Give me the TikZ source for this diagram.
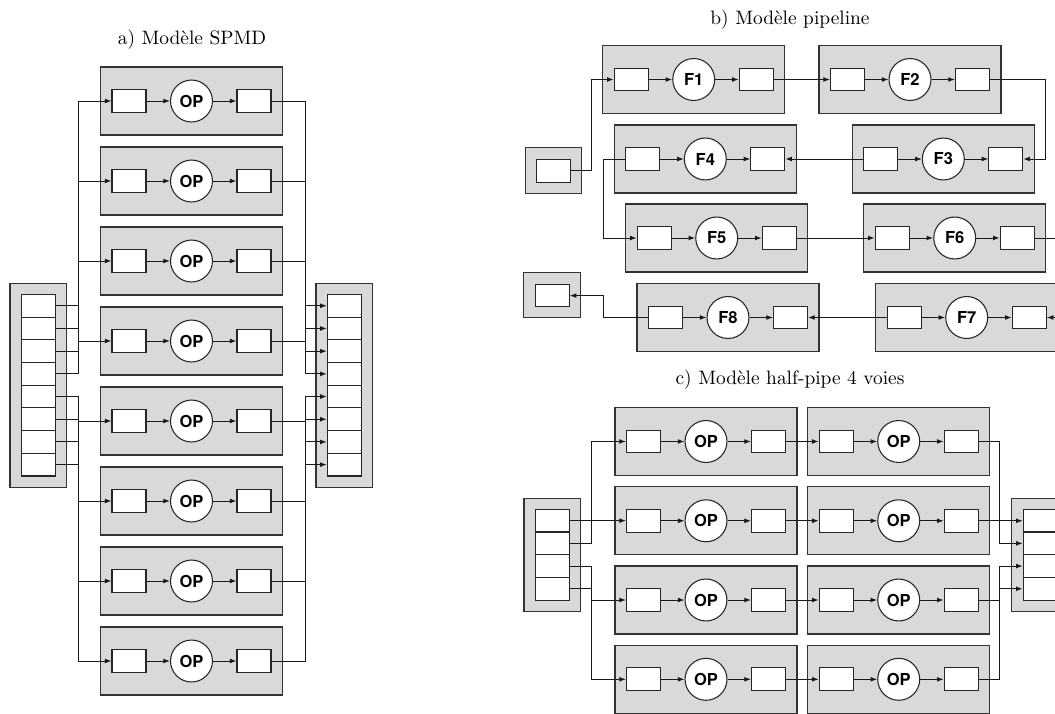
\documentclass[tikz,border=0pt]{standalone}
\usepackage{fontspec}
\newfontfamily\opfont{TeX Gyre Heros}
\usetikzlibrary{arrows.meta,calc}
\tikzset{
  frame/.style={draw=black!80, fill=gray!30, line width=0.6pt, rectangle, inner sep=0pt},
  cellbox/.style={rectangle, draw=black!85, fill=white, line width=0.55pt,
    minimum width=17.5pt, minimum height=11.7pt, inner sep=0pt},
  opnode/.style={circle, draw=black!85, fill=white, line width=0.55pt,
    minimum size=21.6pt, inner sep=0pt, font=\opfont\bfseries\fontsize{8.5}{10}\selectfont},
  wire/.style={line width=0.5pt, black!90},
  arr/.style={wire, -{Latex[length=3.4pt,width=2.5pt]}},
  title/.style={font=\fontsize{10}{12}\selectfont, inner sep=0pt},
}
% stage: name, cx, cy, label
\newcommand\stagebox[4]{%
  \node[frame, minimum width=93.7pt, minimum height=35pt] (#1) at (#2,#3) {};
  \node[cellbox] (#1-in) at ($(#1.center)+(-62.5,0)$) {};
  \node[opnode] (#1-op) at (#1.center) {#4};
  \node[cellbox] (#1-out) at ($(#1.center)+(62.5,0)$) {};
  \draw[arr] (#1-in.east) -- (#1-op.west);
  \draw[arr] (#1-op.east) -- (#1-out.west);
}
% cell stack: name, cx, cy, n
\newcommand\cellstack[4]{%
  \node[frame, minimum width=29.2pt, minimum height={(#4*22.7+22.4)*0.515pt}] (#1) at (#2,#3) {};
  \foreach \k in {1,...,#4} {
    \node[cellbox] (#1-\k) at (#2, {#3+(\k-(#4+1)/2)*22.7}) {};
  }
}
\begin{document}
\begin{tikzpicture}[x=0.515pt, y=-0.515pt]
\useasboundingbox (0,0) rectangle (1055,713);

% ---------------- a) SPMD
\node[title] (ta) at (192,40) {a) Modèle SPMD};
\foreach \i in {1,...,8} {
  \stagebox{s\i}{191.5}{{101+80*(\i-1)}}{OP}
}
\cellstack{ia}{38.3}{385.2}{8}
\cellstack{oa}{344.3}{385.2}{8}
\coordinate (ibus) at (78,0);
\coordinate (obus) at (305,0);
\foreach \i in {1,...,8} {
  \draw[arr] (ia-\i.east) -- (ia-\i.east -| ibus) |- (s\i-in.west);
  \draw[arr] (s\i-out.east) -- (s\i-out.east -| obus) |- (oa-\i.west);
}

% ---------------- b) pipeline
\node[title] (tb) at (790,20) {b) Modèle pipeline};
\stagebox{F1}{693.7}{79.5}{F1}
\stagebox{F2}{910}{79.5}{F2}
\stagebox{F3}{943.3}{159}{F3}
\stagebox{F4}{705.3}{159}{F4}
\stagebox{F5}{716.7}{238}{F5}
\stagebox{F6}{954.7}{238}{F6}
\stagebox{F7}{966.7}{317.5}{F7}
\stagebox{F8}{728}{317.5}{F8}
\node[frame, minimum width=28.8pt, minimum height=23.7pt] (srcf) at (553.7,170.5) {};
\node[cellbox] (src) at (553.7,170.8) {};
\node[frame, minimum width=29.5pt, minimum height=23.4pt] (snkf) at (552,295) {};
\node[cellbox] (snk) at (552.2,295.6) {};
\coordinate (pb1) at (591.7,0);
\coordinate (pb2) at (1045.5,0);
\coordinate (pb3) at (603.5,0);
\coordinate (pb4) at (1075,0);
\draw[arr] (src.east) -- (src.east -| pb1) |- (F1-in.west);
\draw[arr] (F1-out.east) -- (F2-in.west);
\draw[arr] (F2-out.east) -- (F2-out.east -| pb2) |- (F3-out.east);
\draw[arr] (F3-in.west) -- (F4-out.east);
\draw[arr] (F4-in.west) -- (F4-in.west -| pb3) |- (F5-in.west);
\draw[arr] (F5-out.east) -- (F6-in.west);
\draw[arr] (F6-out.east) -- (F6-out.east -| pb4) |- (F7-out.east);
\draw[arr] (F7-in.west) -- (F8-out.east);
\draw[arr] (F8-in.west) -- (F8-in.west -| pb3) |- (snk.east);

% ---------------- c) half-pipe
\node[title] (tc) at (790,380) {c) Modèle half-pipe 4 voies};
\foreach \r/\y in {1/441.5,2/520.8,3/600,4/679.3} {
  \stagebox{ha\r}{706}{\y}{OP}
  \stagebox{hb\r}{898.7}{\y}{OP}
}
\cellstack{hs}{552.4}{554.7}{4}
\cellstack{hk}{1040.2}{554.7}{4}
\coordinate (hib) at (591.7,0);
\coordinate (hob) at (999,0);
\foreach \r in {1,...,4} {
  \draw[arr] (ha\r-out.east) -- (hb\r-in.west);
}
\draw[arr] (hs-1.east) -- (hs-1.east -| ha2-in.west);
\draw[arr] (hs-2.east) -- (hs-2.east -| hib) |- (ha1-in.west);
\draw[arr] (hs-3.east) -- (hs-3.east -| hib) |- (ha3-in.west);
\draw[arr] (hs-4.east) -- (hs-4.east -| hib) |- (ha4-in.west);
\draw[arr] (hb2-out.east) -- (hb2-out.east -| hk-1.west);
\draw[arr] (hb1-out.east) -- (hb1-out.east -| hob) |- (hk-2.west);
\draw[arr] (hb3-out.east) -- (hb3-out.east -| hob) |- (hk-3.west);
\draw[arr] (hb4-out.east) -- (hb4-out.east -| hob) |- (hk-4.west);
\end{tikzpicture}
\end{document}
